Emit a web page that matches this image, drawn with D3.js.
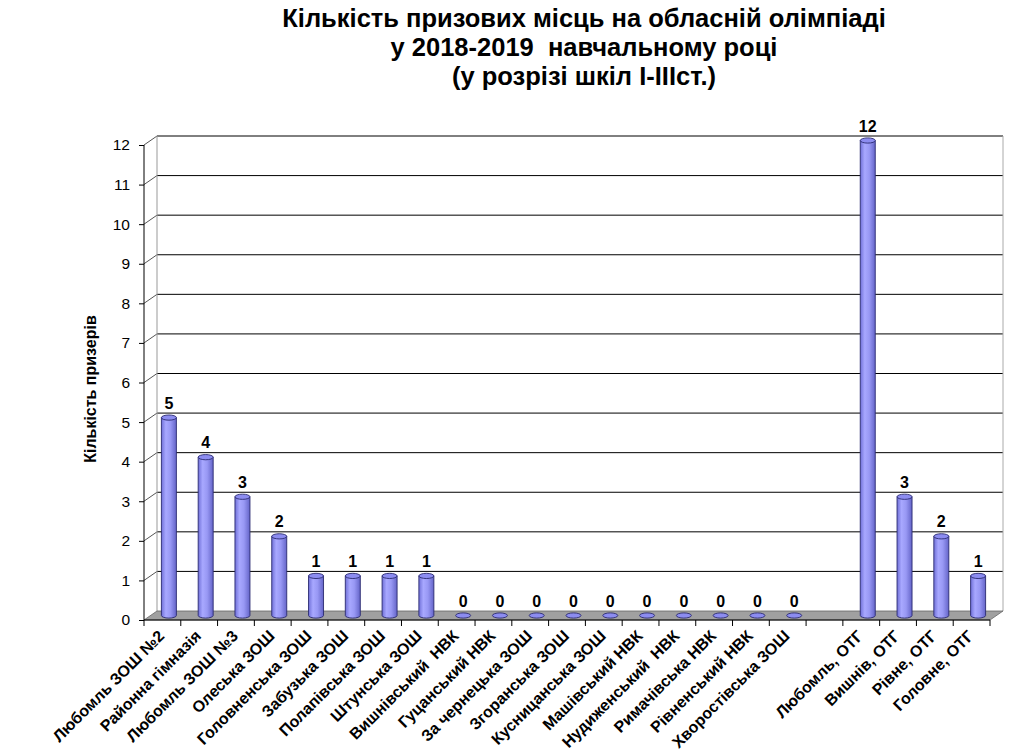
<!doctype html>
<html>
<head>
<meta charset="utf-8">
<script src="https://cdnjs.cloudflare.com/ajax/libs/d3/7.8.5/d3.min.js"></script>
<style>
  body { margin: 0; background: #fff; }
  svg { font-family: "Liberation Sans", Arial, sans-serif; }
</style>
</head>
<body>
<svg width="1014" height="752"></svg>
<script>
// data
var categories = ["Любомль ЗОШ №2", "Районна гімназія", "Любомль ЗОШ №3", "Олеська ЗОШ",
  "Головненська ЗОШ", "Забузька ЗОШ", "Полапівська ЗОШ", "Штунська ЗОШ",
  "Вишнівський  НВК", "Гуцанський НВК", "За чернецька ЗОШ", "Згоранська ЗОШ",
  "Кусницанська ЗОШ", "Машівський НВК", "Нудиженський  НВК", "Римачівська НВК",
  "Рівненський НВК", "Хворостівська ЗОШ", "",
  "Любомль, ОТГ", "Вишнів, ОТГ", "Рівне, ОТГ", "Головне, ОТГ"];
var values = [5, 4, 3, 2, 1, 1, 1, 1, 0, 0, 0, 0, 0, 0, 0, 0, 0, 0, null, 12, 3, 2, 1];
var yTicks = [0, 1, 2, 3, 4, 5, 6, 7, 8, 9, 10, 11, 12];
var titleLines = ["Кількість призових місць на обласній олімпіаді",
  "у 2018-2019  навчальному році", "(у розрізі шкіл І-ІІІст.)"];
var yTitle = "Кількість призерів";

var svg = d3.select("svg");
var dx = 13, dy = -9;   // depth of the 3d box

var x = d3.scaleBand().domain(d3.range(categories.length)).range([144, 990]).padding(0);
var y = d3.scaleLinear().domain([0, 12]).range([620, 145]);

var defs = svg.append("defs");
var grad = defs.append("linearGradient").attr("id", "cyl").attr("x1", "0").attr("x2", "1");
grad.append("stop").attr("offset", "0").attr("stop-color", "#7070d8");
grad.append("stop").attr("offset", "0.3").attr("stop-color", "#a8a8ff");
grad.append("stop").attr("offset", "0.6").attr("stop-color", "#9898f4");
grad.append("stop").attr("offset", "1").attr("stop-color", "#6464c8");

// title
svg.append("g").selectAll("text").data(titleLines).enter().append("text")
  .attr("x", 584).attr("y", function(d, i) { return 27 + i * 29; })
  .attr("text-anchor", "middle").attr("font-size", 25.5).attr("font-weight", "bold")
  .style("white-space", "pre")
  .text(function(d) { return d; });

var x0 = x.range()[0], x1 = x.range()[1];

// back wall gridlines
svg.append("g").selectAll("line").data(yTicks.slice(1)).enter().append("line")
  .attr("x1", x0 + dx).attr("x2", x1 + dx)
  .attr("y1", function(d) { return y(d) + dy; }).attr("y2", function(d) { return y(d) + dy; })
  .attr("stroke", "#000").attr("stroke-width", 1);
// left wall diagonals
svg.append("g").selectAll("line").data(yTicks.slice(1)).enter().append("line")
  .attr("x1", x0).attr("x2", x0 + dx)
  .attr("y1", function(d) { return y(d); }).attr("y2", function(d) { return y(d) + dy; })
  .attr("stroke", "#555").attr("stroke-width", 1);
// wall edges
svg.append("line").attr("x1", x0 + dx).attr("x2", x0 + dx).attr("y1", y(12) + dy).attr("y2", y(0) + dy)
  .attr("stroke", "#999");
svg.append("line").attr("x1", x1 + dx).attr("x2", x1 + dx).attr("y1", y(12) + dy).attr("y2", y(0) + dy)
  .attr("stroke", "#aaa");

// floor
svg.append("path")
  .attr("d", "M" + x0 + "," + y(0) + "L" + (x0 + dx) + "," + (y(0) + dy) + "L" + (x1 + dx) + "," + (y(0) + dy) + "L" + x1 + "," + y(0) + "Z")
  .attr("fill", "#a0a0a0").attr("stroke", "#666").attr("stroke-width", 0.8);

// front axes
svg.append("line").attr("x1", x0).attr("x2", x0).attr("y1", y(12)).attr("y2", y(0)).attr("stroke", "#000");
svg.append("line").attr("x1", x0).attr("x2", x1).attr("y1", y(0)).attr("y2", y(0)).attr("stroke", "#000");

var yAxis = svg.append("g").attr("transform", "translate(" + x0 + ",0)")
  .call(d3.axisLeft(y).tickValues(yTicks).tickSize(5).tickPadding(9));
yAxis.select(".domain").remove();
yAxis.selectAll("text").attr("font-size", 15.5).attr("font-family", "Liberation Sans, Arial, sans-serif").attr("fill", "#000");

// x ticks at category edges
svg.append("g").selectAll("line").data(d3.range(categories.length + 1)).enter().append("line")
  .attr("x1", function(i) { return x0 + i * x.step(); }).attr("x2", function(i) { return x0 + i * x.step(); })
  .attr("y1", y(0)).attr("y2", y(0) + 6).attr("stroke", "#000");

// x labels
svg.append("g").selectAll("text").data(categories).enter().append("text")
  .attr("transform", function(d, i) { return "translate(" + (x(i) + x.bandwidth() / 2 + 3) + "," + (y(0) + 17) + ") rotate(-45)"; })
  .attr("text-anchor", "end").attr("font-size", 16).attr("font-weight", "bold")
  .style("white-space", "pre")
  .text(function(d) { return d; });

// y title
svg.append("text").attr("transform", "translate(96,389) rotate(-90)")
  .attr("text-anchor", "middle").attr("font-size", 16).attr("font-weight", "bold").text(yTitle);

// cylinders
var bw = 15, rx = bw / 2, ry = 2.6;
var data = values.map(function(v, i) { return { v: v, i: i }; }).filter(function(d) { return d.v !== null; });
var bars = svg.append("g").selectAll("g").data(data).enter().append("g")
  .attr("transform", function(d) { return "translate(" + (x(d.i) + x.bandwidth() / 2 + dx / 2) + "," + dy / 2 + ")"; });

bars.filter(function(d) { return d.v > 0; }).append("path")
  .attr("d", function(d) {
    var top = y(d.v), bot = y(0);
    return "M" + (-rx) + "," + top + "L" + (-rx) + "," + bot +
      "A" + rx + "," + ry + " 0 0 0 " + rx + "," + bot +
      "L" + rx + "," + top + "Z";
  })
  .attr("fill", "url(#cyl)").attr("stroke", "#2a2a70").attr("stroke-width", 0.9);
bars.append("ellipse")
  .attr("cx", 0).attr("cy", function(d) { return y(d.v); })
  .attr("rx", rx).attr("ry", ry)
  .attr("fill", "#8c8cf0").attr("stroke", "#2a2a70").attr("stroke-width", 0.9);

// value labels
bars.append("text")
  .attr("x", 0).attr("y", function(d) { return y(d.v) - 9; })
  .attr("text-anchor", "middle").attr("font-size", 16).attr("font-weight", "bold")
  .text(function(d) { return d.v; });
</script>
</body>
</html>
